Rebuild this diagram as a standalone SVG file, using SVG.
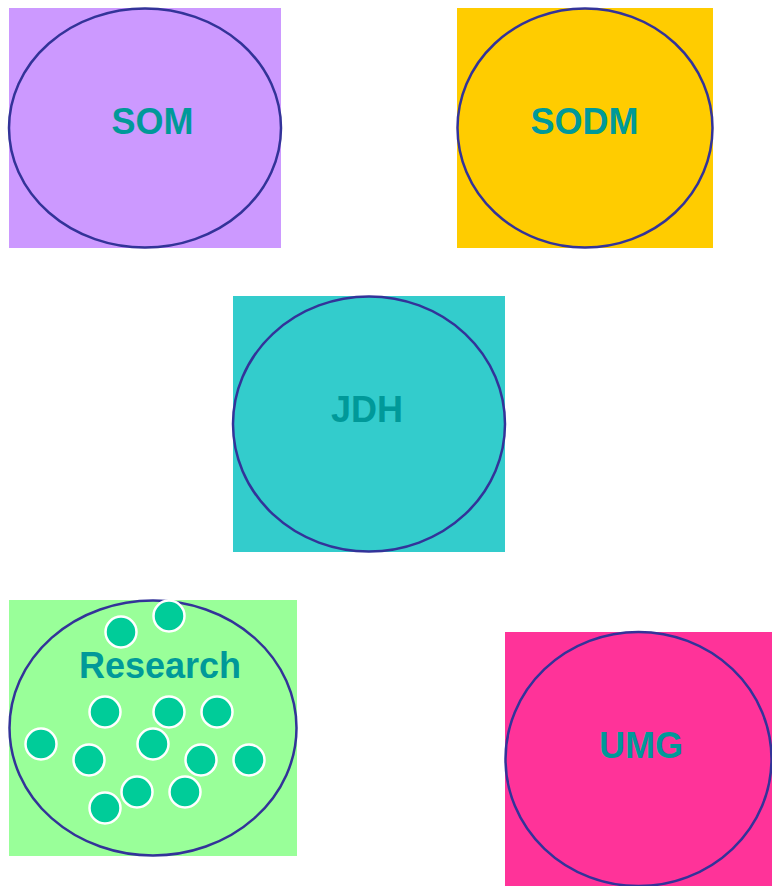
<svg xmlns="http://www.w3.org/2000/svg" width="772" height="886" viewBox="0 0 772 886">
  <style>
    .ring { fill: none; stroke: #333399; stroke-width: 2.5; }
    .label { font-family: "Liberation Sans", Arial, sans-serif; font-weight: bold; font-size: 36px; fill: #009999; text-anchor: middle; }
    .dot { fill: #00CC99; stroke: #FFFFFF; stroke-width: 2.5; }
  </style>
  <rect width="772" height="886" fill="#FFFFFF"/>

  <g id="som">
    <rect x="9" y="8" width="272" height="240" fill="#CC99FF"/>
    <ellipse class="ring" cx="145" cy="128" rx="136" ry="119.5"/>
    <text class="label" x="152.5" y="134">SOM</text>
  </g>

  <g id="sodm">
    <rect x="457" y="8" width="256" height="240" fill="#FFCC00"/>
    <ellipse class="ring" cx="585" cy="128" rx="127.5" ry="119.5"/>
    <text class="label" x="584.5" y="134">SODM</text>
  </g>

  <g id="jdh">
    <rect x="233" y="296" width="272" height="256" fill="#33CCCC"/>
    <ellipse class="ring" cx="369" cy="424" rx="136" ry="127.5"/>
    <text class="label" x="367" y="422">JDH</text>
  </g>

  <g id="research">
    <rect x="9" y="600" width="288" height="256" fill="#99FF99"/>
    <ellipse class="ring" cx="153" cy="728" rx="143.5" ry="127.5"/>
    <text class="label" x="160" y="678">Research</text>
    <g id="research-members">
      <circle class="dot" cx="121" cy="632" r="15.5"/>
      <circle class="dot" cx="169" cy="616" r="15.5"/>
      <circle class="dot" cx="105" cy="712" r="15.5"/>
      <circle class="dot" cx="169" cy="712" r="15.5"/>
      <circle class="dot" cx="217" cy="712" r="15.5"/>
      <circle class="dot" cx="41" cy="744" r="15.5"/>
      <circle class="dot" cx="153" cy="744" r="15.5"/>
      <circle class="dot" cx="89" cy="760" r="15.5"/>
      <circle class="dot" cx="201" cy="760" r="15.5"/>
      <circle class="dot" cx="249" cy="760" r="15.5"/>
      <circle class="dot" cx="137" cy="792" r="15.5"/>
      <circle class="dot" cx="185" cy="792" r="15.5"/>
      <circle class="dot" cx="105" cy="808" r="15.5"/>
    </g>
  </g>

  <g id="umg">
    <rect x="505" y="632" width="267" height="254" fill="#FF3399"/>
    <ellipse class="ring" cx="638.5" cy="759" rx="133" ry="127"/>
    <text class="label" x="641" y="757.5">UMG</text>
  </g>

  <g id="connectors"></g>
</svg>
